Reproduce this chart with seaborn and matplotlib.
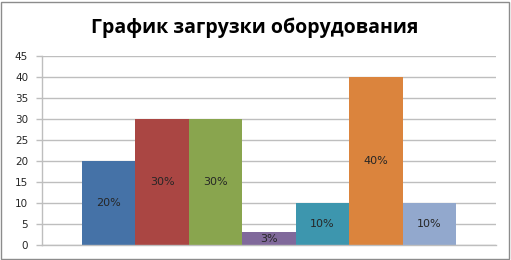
import matplotlib
matplotlib.use("Agg")
import matplotlib.pyplot as plt
import seaborn as sns
import pandas as pd
from matplotlib.patches import Rectangle

title = "График загрузки оборудования"
categories = ["A", "B", "C", "D", "E", "F", "G"]
values = [20, 30, 30, 3, 10, 40, 10]
labels = ["20%", "30%", "30%", "3%", "10%", "40%", "10%"]
colors = ["#4572A7", "#AA4643", "#89A54E", "#80699B", "#3D96AE", "#DB843D", "#92A8CD"]
yticks = [0, 5, 10, 15, 20, 25, 30, 35, 40, 45]

sns.set_theme(style="white")
plt.rcParams['font.family'] = ['DejaVu Sans']

df = pd.DataFrame({"cat": categories, "val": values})

fig = plt.figure(figsize=(5.11, 2.60), dpi=100)
fig.patch.set_facecolor("white")
fig.patches.append(Rectangle((1/511, 1/260), 508/511, 257/260, transform=fig.transFigure,
                             fill=False, edgecolor="#8C8C8C", linewidth=1.0))
ax = fig.add_axes([42/511, 15/260, 454/511, 189/260])

sns.barplot(data=df, x="cat", y="val", hue="cat", palette=colors, width=1.0,
            legend=False, ax=ax, saturation=1, linewidth=0, edgecolor="none")

ax.set_ylim(0, 45)
ax.set_xlim(-1.25, 7.25)
ax.set_yticks(yticks)
ax.set_xticks([])
ax.set_xlabel("")
ax.set_ylabel("")
ax.yaxis.grid(True, color="#BEBEBE", linewidth=1.0)
ax.set_axisbelow(True)
for s in ["top", "right"]:
    ax.spines[s].set_visible(False)
ax.spines["left"].set_color("#BEBEBE")
ax.spines["bottom"].set_color("#BEBEBE")
ax.spines["left"].set_linewidth(1.0)
ax.spines["bottom"].set_linewidth(1.0)
ax.tick_params(axis="y", which="both", left=True, length=4, width=1, color="#BEBEBE",
               labelsize=7.5, labelcolor="#262626", pad=6)

for i, (v, lab) in enumerate(zip(values, labels)):
    ax.text(i, v / 2, lab, ha="center", va="center", fontsize=8, color="#262626")

fig.text(255/511, 1 - 28/260, title, ha="center", va="center", fontsize=14,
         fontweight="bold", family=["Open Sans", "DejaVu Sans"], color="black")

fig.savefig("out.png", dpi=100)
